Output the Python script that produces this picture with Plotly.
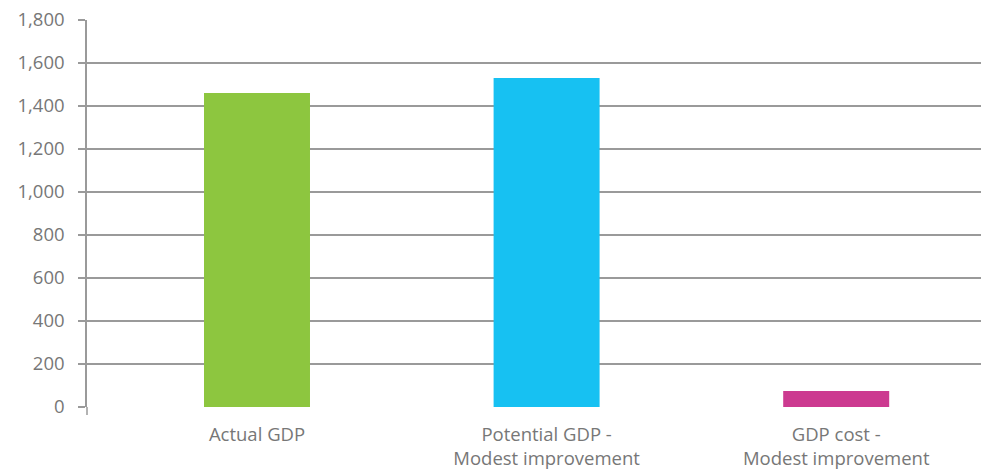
import plotly.graph_objects as go

categories = ["Actual GDP", "Potential GDP -<br>Modest improvement", "GDP cost -<br>Modest improvement"]
values = [1460, 1530, 74]
colors = ["#8DC63F", "#17C1F2", "#CC3A90"]
y_ticks = [0, 200, 400, 600, 800, 1000, 1200, 1400, 1600, 1800]
y_tick_labels = ["0", "200", "400", "600", "800", "1,000", "1,200", "1,400", "1,600", "1,800"]

positions = list(range(len(categories)))

fig = go.Figure(go.Bar(
    x=positions, y=values, marker=dict(color=colors, line=dict(width=0)),
    width=0.366, hoverinfo="skip",
))

grey = "#9a9a9a"
fig.update_layout(
    width=981, height=473,
    margin=dict(l=87, r=0, t=20, b=66),
    paper_bgcolor="white", plot_bgcolor="white",
    font=dict(family="Open Sans", size=18.5, color="#777777"),
    showlegend=False,
    xaxis=dict(
        range=[-0.587, 2.5], tickvals=positions, ticktext=categories,
        showgrid=False, zeroline=False, showline=False, ticks="",
        ticklabelstandoff=14,
        tickfont=dict(size=18.5, color="#777777"),
    ),
    yaxis=dict(
        range=[0, 1800], tickvals=y_ticks, ticktext=y_tick_labels,
        showgrid=True, gridcolor=grey, gridwidth=1.5,
        zeroline=False, showline=True, linecolor=grey, linewidth=1.5,
        ticks="outside", ticklen=7, tickcolor=grey, tickwidth=1.5,
        ticklabelstandoff=10,
        tickfont=dict(size=18.5, color="#777777"),
    ),
    shapes=[dict(type="line", xref="paper", yref="paper", x0=0, x1=0,
                 y0=0, y1=-8/387, line=dict(color=grey, width=1.5))],
)

fig.write_html("out.html")
